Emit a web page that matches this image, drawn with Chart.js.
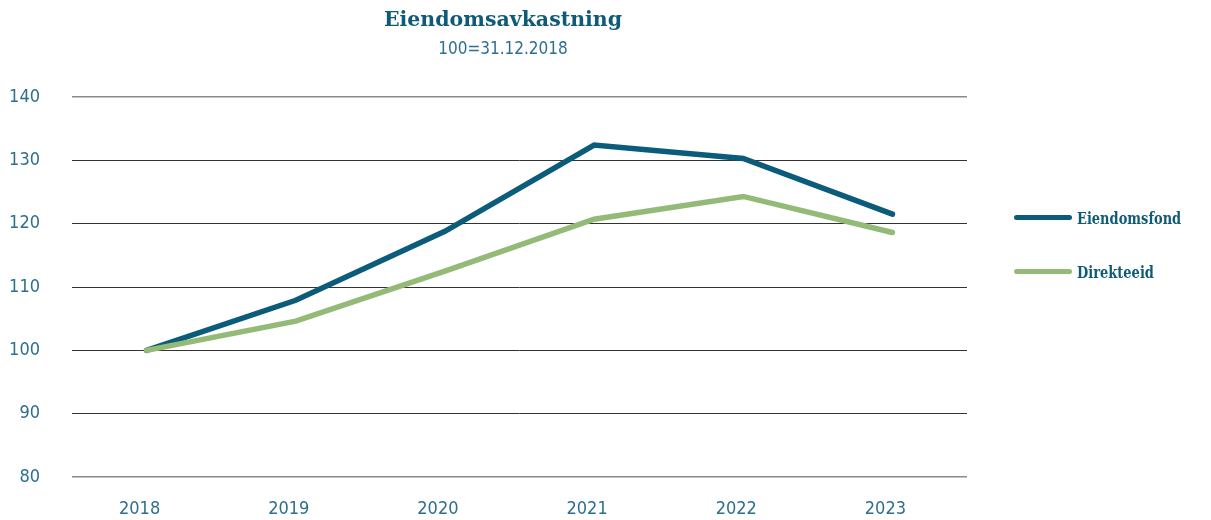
<!DOCTYPE html>
<html>
<head>
<meta charset="utf-8">
<script src="https://cdn.jsdelivr.net/npm/chart.js@4/dist/chart.umd.min.js"></script>
<style>
  body { margin: 0; background: #fff; }
  #wrap { position: relative; width: 1211px; height: 520px; }
  #title { position: absolute; left: 303px; width: 400px; top: 7px; text-align: center;
    font-family: 'DejaVu Serif', serif; font-weight: bold; font-size: 20.5px; color: #0f5a78; }
  #subtitle { position: absolute; left: 303px; width: 400px; top: 38px; text-align: center;
    font-family: 'Liberation Sans Narrow', 'DejaVu Sans Condensed', sans-serif; font-size: 17px; color: #2e6f8e; }
  #legend { position: absolute; left: 1014px; top: 204px; }
  .item { display: flex; align-items: center; height: 27px; margin-bottom: 27px;
    font-family: 'DejaVu Serif Condensed', 'DejaVu Serif', serif; font-weight: bold; font-size: 17px; color: #0f5a78; }
  .item span { display: inline-block; transform: scaleX(0.85); transform-origin: left center; }
  .swatch { width: 58px; height: 5px; border-radius: 3px; margin-right: 5px; }
</style>
</head>
<body>
<div id="wrap">
  <canvas id="chart" width="1211" height="520"></canvas>
  <div id="title">Eiendomsavkastning</div>
  <div id="subtitle">100=31.12.2018</div>
  <div id="legend"></div>
</div>
<script>
const years = ['2018', '2019', '2020', '2021', '2022', '2023'];
const eiendomsfond = [100, 107.9, 118.8, 132.4, 130.3, 121.5];
const direkteeid = [100, 104.6, 112.5, 120.7, 124.3, 118.6];
const yTicks = [80, 90, 100, 110, 120, 130, 140];

const tickFont = { family: "'Liberation Sans Narrow', 'DejaVu Sans Condensed', sans-serif", size: 18 };
const tickColor = '#2e6f8e';

const datasets = [
  { label: 'Eiendomsfond', data: eiendomsfond, borderColor: '#0b5c7a', order: 1 },
  { label: 'Direkteeid', data: direkteeid, borderColor: '#93bb77', order: 0 }
];
datasets.forEach(d => {
  d.borderWidth = 5.5;
  d.pointRadius = 0;
  d.tension = 0;
  d.fill = false;
  d.borderCapStyle = 'round';
  d.borderJoinStyle = 'miter';
});

new Chart(document.getElementById('chart'), {
  type: 'line',
  data: { labels: years, datasets: datasets },
  options: {
    responsive: false,
    animation: false,
    layout: { padding: { left: 0, top: 97, right: 244, bottom: 0 } },
    plugins: { legend: { display: false }, tooltip: { enabled: false } },
    scales: {
      x: {
        offset: true,
        grid: { display: false, drawTicks: false },
        border: { display: false },
        ticks: { font: tickFont, color: tickColor, padding: 22, labelOffset: -7 },
        afterFit: s => { s.height = 43; }
      },
      y: {
        min: 80, max: 140,
        afterBuildTicks: s => { s.ticks = yTicks.map(v => ({ value: v })); },
        grid: {
          drawTicks: false,
          lineWidth: c => (c.tick && (c.tick.value === 80 || c.tick.value === 140)) ? 1.5 : 1,
          color: c => (c.tick && (c.tick.value === 80 || c.tick.value === 140)) ? '#8a8a8a' : '#333333'
        },
        border: { display: false },
        ticks: { font: tickFont, color: tickColor, padding: 32 },
        afterFit: s => { s.width = 72; }
      }
    }
  }
});

const legend = document.getElementById('legend');
datasets.forEach(d => {
  const item = document.createElement('div');
  item.className = 'item';
  item.innerHTML = '<div class="swatch" style="background:' + d.borderColor + '"></div><span>' + d.label + '</span>';
  legend.appendChild(item);
});
</script>
</body>
</html>
